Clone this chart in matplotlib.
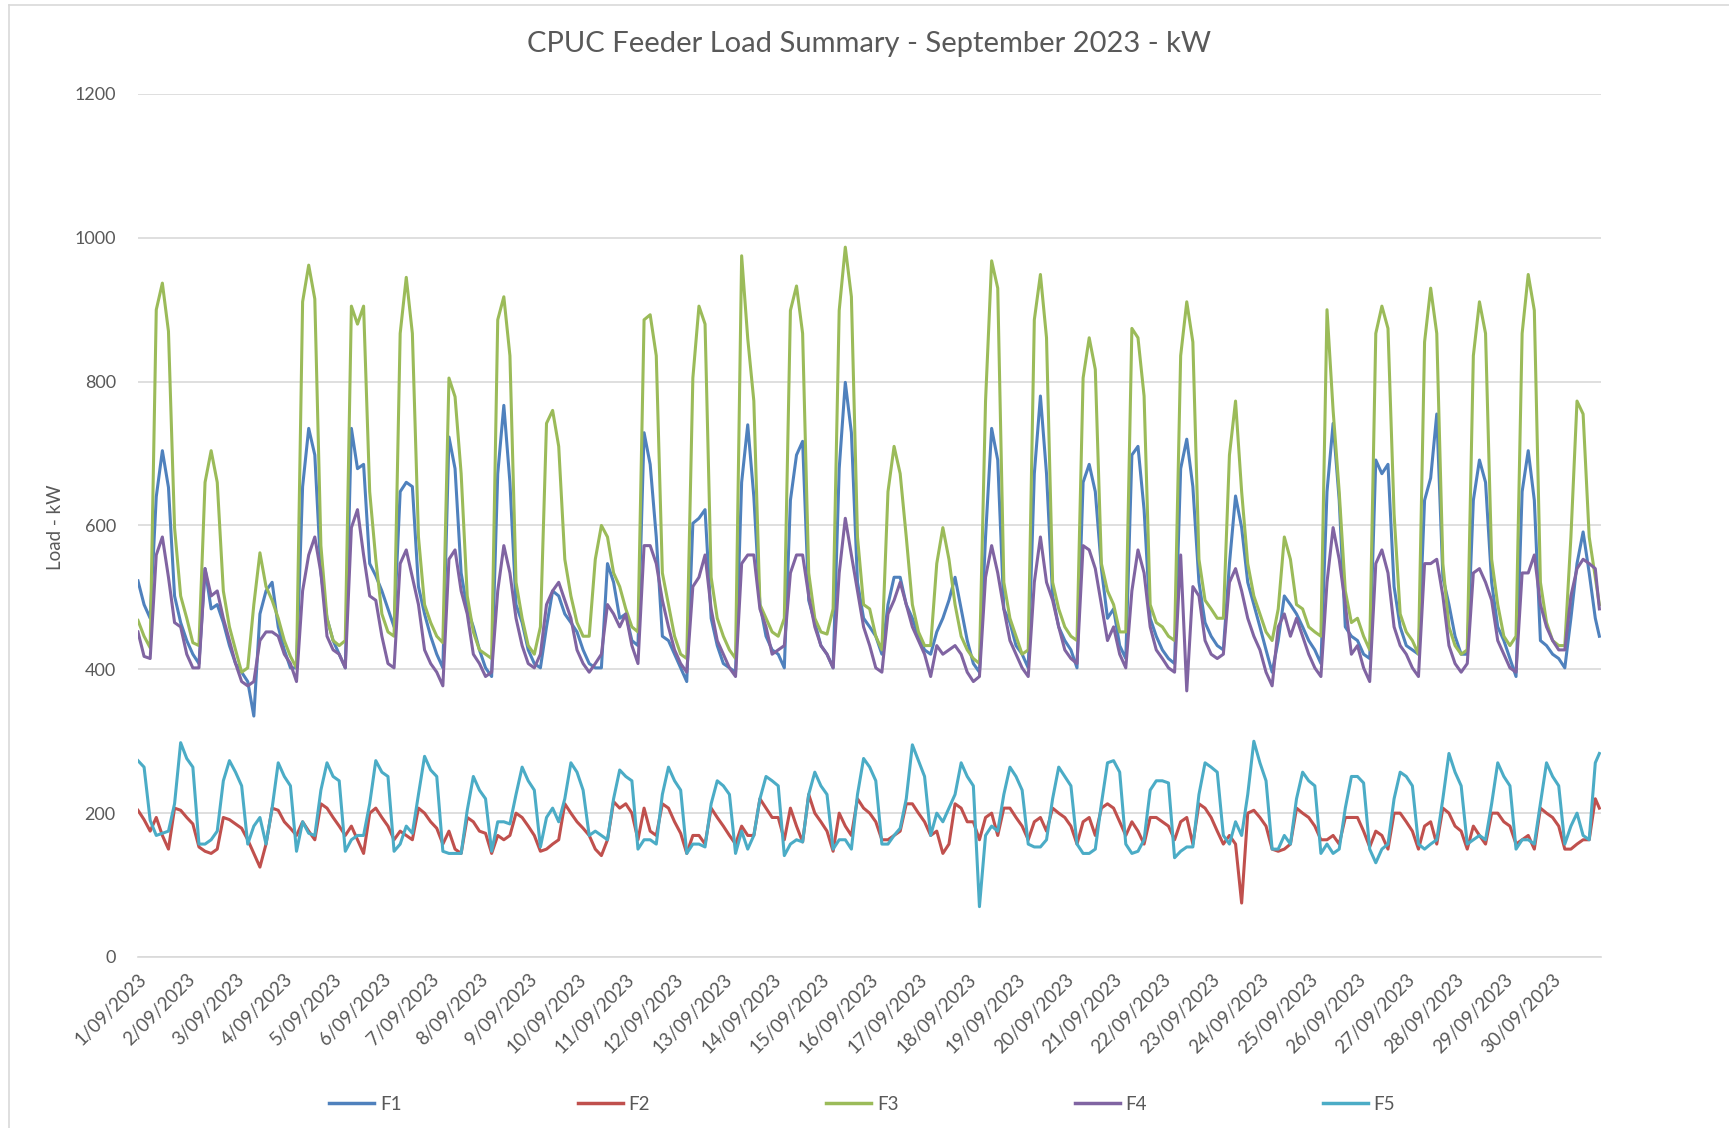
import numpy as np
import matplotlib.pyplot as plt
from matplotlib.lines import Line2D

plt.rcParams['font.family'] = ['Lato', 'DejaVu Sans']

# readings every 3 hours (0,3,...,21h) for each day of September, plus the last hour
day_labels = [f"{d}/09/2023" for d in range(1, 31)]
hours = list(range(0, 720, 3)) + [719]

f1 = [523, 490, 471, 640, 704, 653, 502, 465,
      440, 421, 408, 540, 484, 490, 465, 433,
      408, 396, 383, 335, 477, 509, 521, 459,
      427, 402, 402, 654, 735, 698, 534, 471,
      440, 421, 402, 735, 679, 685, 547, 530,
      509, 484, 459, 647, 660, 654, 515, 477,
      446, 421, 402, 723, 679, 534, 484, 459,
      427, 402, 390, 672, 767, 660, 490, 465,
      427, 408, 402, 459, 509, 502, 477, 465,
      452, 427, 408, 402, 402, 547, 521, 471,
      477, 440, 433, 729, 685, 584, 446, 440,
      421, 402, 383, 603, 610, 622, 471, 433,
      408, 402, 396, 660, 740, 640, 490, 446,
      427, 421, 402, 635, 698, 717, 496, 465,
      433, 421, 402, 679, 799, 729, 521, 471,
      459, 446, 421, 490, 528, 528, 490, 471,
      446, 427, 421, 452, 471, 496, 528, 484,
      440, 408, 396, 584, 735, 691, 484, 465,
      433, 421, 402, 672, 780, 672, 502, 459,
      440, 427, 402, 660, 685, 647, 540, 471,
      484, 433, 415, 698, 710, 622, 471, 446,
      427, 415, 408, 679, 720, 654, 521, 465,
      446, 433, 427, 547, 641, 597, 521, 490,
      459, 427, 396, 440, 502, 490, 477, 459,
      440, 427, 408, 647, 742, 635, 459, 446,
      440, 421, 415, 691, 672, 685, 515, 459,
      433, 427, 421, 635, 666, 755, 528, 490,
      446, 421, 421, 635, 691, 660, 521, 459,
      440, 415, 390, 647, 704, 635, 440, 433,
      421, 415, 402, 471, 547, 591, 534, 471, 446]

f2 = [204, 191, 175, 194, 169, 150, 207, 204,
      194, 185, 153, 147, 144, 150, 194, 191,
      185, 179, 163, 144, 125, 157, 207, 204,
      188, 179, 169, 188, 175, 163, 213, 207,
      194, 182, 169, 182, 163, 144, 200, 207,
      194, 182, 163, 175, 169, 163, 207, 200,
      188, 179, 157, 175, 150, 144, 194, 188,
      175, 172, 144, 169, 163, 169, 200, 194,
      182, 169, 147, 150, 157, 163, 213, 200,
      188, 179, 169, 150, 141, 163, 216, 207,
      213, 200, 163, 207, 175, 169, 213, 207,
      188, 172, 144, 169, 169, 157, 207, 194,
      182, 169, 157, 182, 169, 169, 220, 207,
      194, 194, 163, 207, 182, 160, 226, 200,
      188, 175, 147, 200, 182, 169, 220, 207,
      200, 188, 163, 163, 169, 175, 213, 213,
      200, 188, 169, 175, 144, 157, 213, 207,
      188, 188, 163, 194, 200, 169, 207, 207,
      194, 182, 163, 188, 194, 175, 207, 200,
      194, 182, 157, 188, 194, 169, 207, 213,
      207, 188, 169, 188, 175, 157, 194, 194,
      188, 182, 163, 188, 194, 157, 213, 207,
      194, 175, 157, 169, 157, 75, 200, 204,
      194, 182, 150, 147, 150, 157, 207, 200,
      194, 182, 163, 163, 169, 157, 194, 194,
      194, 175, 153, 175, 169, 150, 200, 200,
      188, 175, 150, 182, 188, 157, 207, 200,
      182, 175, 150, 182, 169, 157, 200, 200,
      188, 182, 157, 163, 169, 150, 207, 200,
      194, 182, 150, 150, 157, 163, 163, 220, 207]

f3 = [468, 446, 430, 900, 937, 870, 597, 502,
      471, 437, 433, 660, 704, 660, 509, 459,
      427, 396, 402, 490, 562, 515, 496, 471,
      440, 418, 402, 911, 962, 915, 572, 471,
      440, 433, 440, 905, 880, 905, 647, 553,
      477, 452, 446, 867, 945, 867, 584, 490,
      465, 446, 437, 805, 779, 672, 502, 452,
      427, 421, 415, 886, 918, 836, 521, 471,
      433, 421, 459, 742, 760, 710, 553, 502,
      465, 446, 446, 553, 600, 584, 534, 515,
      484, 459, 452, 886, 893, 836, 534, 490,
      446, 421, 415, 805, 905, 880, 528, 471,
      446, 427, 415, 975, 860, 773, 490, 471,
      452, 446, 471, 899, 933, 867, 534, 471,
      452, 449, 484, 899, 987, 918, 584, 490,
      484, 446, 427, 647, 710, 672, 584, 490,
      452, 433, 433, 547, 597, 553, 490, 446,
      427, 415, 408, 773, 968, 930, 521, 471,
      446, 421, 427, 886, 949, 861, 521, 484,
      459, 446, 440, 805, 861, 817, 547, 509,
      490, 452, 452, 874, 861, 780, 490, 465,
      459, 446, 440, 836, 911, 855, 553, 496,
      484, 471, 471, 698, 773, 647, 547, 502,
      477, 452, 440, 484, 584, 553, 490, 484,
      459, 452, 446, 900, 760, 647, 509, 465,
      471, 446, 427, 867, 905, 874, 616, 477,
      452, 440, 421, 855, 930, 867, 547, 459,
      433, 421, 427, 836, 911, 867, 553, 490,
      446, 433, 446, 867, 949, 899, 521, 465,
      440, 433, 433, 584, 773, 755, 584, 528, 490]

f4 = [452, 418, 415, 559, 584, 528, 465, 459,
      421, 402, 402, 540, 502, 509, 471, 440,
      408, 383, 377, 383, 440, 452, 452, 446,
      421, 408, 383, 509, 559, 584, 534, 446,
      427, 421, 402, 597, 622, 559, 502, 496,
      446, 408, 402, 547, 566, 528, 490, 427,
      408, 396, 377, 553, 566, 509, 477, 421,
      408, 390, 396, 509, 572, 534, 471, 433,
      408, 402, 421, 490, 509, 521, 496, 471,
      427, 408, 396, 408, 421, 490, 477, 459,
      477, 433, 408, 572, 572, 547, 496, 459,
      427, 408, 396, 515, 528, 559, 484, 440,
      421, 402, 390, 547, 559, 559, 484, 459,
      421, 427, 433, 534, 559, 559, 502, 459,
      433, 421, 402, 534, 610, 559, 509, 459,
      433, 402, 396, 477, 496, 521, 490, 459,
      440, 421, 390, 433, 421, 427, 433, 421,
      396, 383, 390, 528, 572, 534, 484, 440,
      421, 402, 390, 521, 584, 521, 496, 459,
      427, 415, 408, 572, 566, 540, 490, 440,
      459, 421, 402, 509, 566, 534, 459, 427,
      415, 402, 396, 559, 370, 515, 502, 440,
      421, 415, 421, 521, 540, 509, 471, 446,
      427, 396, 377, 459, 477, 446, 471, 446,
      421, 402, 390, 521, 597, 553, 490, 421,
      433, 402, 383, 547, 566, 534, 459, 433,
      421, 402, 390, 547, 547, 553, 502, 433,
      408, 396, 408, 534, 540, 521, 496, 440,
      421, 402, 396, 534, 534, 559, 490, 459,
      440, 427, 427, 502, 540, 553, 547, 540, 484]

f5 = [273, 264, 190, 169, 172, 175, 213, 298,
      276, 264, 157, 157, 163, 175, 245, 273,
      257, 238, 157, 182, 194, 157, 207, 270,
      251, 238, 147, 188, 172, 169, 232, 270,
      251, 245, 147, 163, 169, 169, 213, 273,
      257, 251, 147, 157, 182, 172, 226, 279,
      260, 251, 147, 144, 144, 144, 204, 251,
      232, 220, 147, 188, 188, 185, 226, 264,
      245, 232, 153, 194, 207, 188, 220, 270,
      257, 232, 169, 175, 169, 163, 220, 260,
      251, 245, 150, 163, 163, 157, 226, 264,
      245, 232, 144, 157, 157, 153, 213, 245,
      238, 226, 144, 175, 150, 169, 220, 251,
      245, 238, 141, 157, 163, 160, 226, 257,
      238, 226, 150, 163, 163, 150, 226, 276,
      264, 245, 157, 157, 169, 179, 220, 295,
      273, 251, 169, 200, 188, 207, 226, 270,
      251, 238, 70, 169, 182, 175, 226, 264,
      251, 232, 157, 153, 153, 163, 220, 264,
      251, 238, 157, 144, 144, 150, 213, 270,
      273, 257, 157, 144, 147, 163, 232, 245,
      245, 242, 138, 147, 153, 153, 226, 270,
      264, 257, 169, 157, 188, 169, 226, 300,
      270, 245, 150, 150, 169, 157, 220, 257,
      245, 238, 144, 157, 144, 150, 207, 251,
      251, 242, 150, 131, 150, 157, 220, 257,
      251, 238, 157, 150, 157, 163, 220, 283,
      257, 238, 157, 163, 169, 163, 213, 270,
      251, 238, 150, 163, 163, 157, 213, 270,
      251, 238, 157, 182, 200, 169, 163, 270, 283]

series = [("F1", f1, "#4F81BD"), ("F2", f2, "#C0504D"), ("F3", f3, "#9BBB59"),
          ("F4", f4, "#8064A2"), ("F5", f5, "#4BACC6")]

text_color = "#595959"
grid_color = "#D9D9D9"

fig = plt.figure(figsize=(17.29, 11.28), dpi=100)
ax = fig.add_axes([0.0798, 0.1516, 0.8464, 0.7651])

for name, vals, col in series:
    ax.plot(hours, vals, color=col, linewidth=2.2, label=name)

ax.set_xlim(0, 720)
ax.set_ylim(0, 1200)
ax.set_yticks(range(0, 1201, 200))
ax.set_xticks(range(0, 720, 24))
ax.set_xticklabels(day_labels, rotation=45, ha="right", rotation_mode="anchor")
ax.grid(axis="y", color=grid_color, linewidth=1.2)
ax.set_axisbelow(True)
for s in ["top", "right", "left"]:
    ax.spines[s].set_visible(False)
ax.spines["bottom"].set_color(grid_color)
ax.spines["bottom"].set_linewidth(1.2)
ax.tick_params(axis="y", length=0, pad=16, labelsize=13, labelcolor=text_color)
ax.tick_params(axis="x", length=0, pad=10, labelsize=13.5, labelcolor=text_color)

ax.set_ylabel("Load - kW", fontsize=13.5, color=text_color)
ax.yaxis.set_label_coords(-0.0505, 0.498)

fig.text(0.5026, 1 - 44 / 1128, "CPUC Feeder Load Summary - September 2023 - kW",
         ha="center", va="center", fontsize=21, color=text_color)

handles = [Line2D([], [], color=c, linewidth=2.5) for _, _, c in series]
fig.legend(handles, [n for n, _, _ in series], loc="center", ncol=5,
           bbox_to_anchor=(0.4987, 1 - 1104 / 1128), frameon=False,
           fontsize=13.5, labelcolor=text_color, handlelength=2.4,
           handletextpad=0.3, columnspacing=9.4)

# chart area border (partly cut off in the original)
fig.add_artist(Line2D([9 / 1729, 1], [1 - 5 / 1128] * 2, color=grid_color, linewidth=1.2))
fig.add_artist(Line2D([9 / 1729] * 2, [0, 1 - 5 / 1128], color=grid_color, linewidth=1.2))

fig.savefig("out.png", dpi=100)
